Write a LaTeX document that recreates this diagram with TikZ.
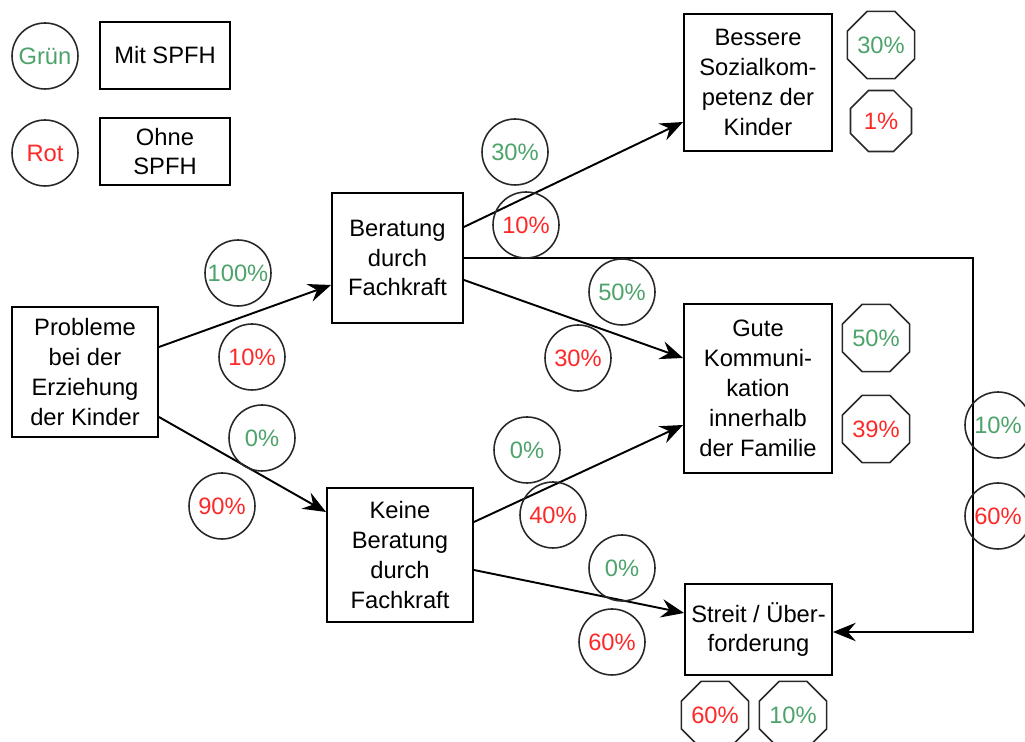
\documentclass[tikz,border=0pt]{standalone}
\usepackage{fontspec}
\setmainfont{Liberation Sans}
\usetikzlibrary{shapes.geometric,arrows.meta,calc}
\definecolor{grn}{RGB}{77,163,107}
\definecolor{rd}{RGB}{255,40,40}
\definecolor{edge}{RGB}{40,40,40}
\begin{document}
\begin{tikzpicture}[x=0.02cm,y=-0.02cm,
  every node/.style={font=\fontsize{13.5pt}{17pt}\selectfont},
  box/.style={draw=black, line width=1.1pt, align=center, inner sep=0pt},
  circ/.style={circle, draw=edge, line width=0.9pt, minimum size=1.32cm, inner sep=0pt},
  oct/.style={regular polygon, regular polygon sides=8, draw=edge, line width=0.9pt,
              minimum size=1.32cm, inner sep=0pt},
  gtxt/.style={text=grn},
  rtxt/.style={text=rd},
  arr/.style={draw=black, line width=1.1pt, -{Stealth[length=13pt,width=10.5pt,inset=4.5pt]}}]
\useasboundingbox (0,0) rectangle (1025,742);

% legend
\node[circ, gtxt] (lg) at (45,56) {Grün};
\node[circ, rtxt] (lr) at (45,153) {Rot};
\node[box, minimum width=2.6cm, minimum height=1.34cm] (lmit) at (165,55.5) {Mit SPFH};
\node[box, minimum width=2.6cm, minimum height=1.34cm] (lohne) at (165,151.5) {Ohne\\SPFH};

% boxes
\node[box, minimum width=2.92cm, minimum height=2.6cm] (prob) at (85,372)
  {Probleme\\bei der\\Erziehung\\der Kinder};
\node[box, minimum width=2.62cm, minimum height=2.6cm] (ber) at (397.5,258)
  {Beratung\\durch\\Fachkraft};
\node[box, minimum width=2.92cm, minimum height=2.68cm] (kein) at (400,555)
  {Keine\\Beratung\\durch\\Fachkraft};
\node[box, minimum width=2.96cm, minimum height=2.74cm] (bess) at (758,82.5)
  {Bessere\\Sozialkom-\\petenz der\\Kinder};
\node[box, minimum width=2.96cm, minimum height=3.38cm] (gute) at (758,388.5)
  {Gute\\Kommuni-\\kation\\innerhalb\\der Familie};
\node[box, minimum width=2.94cm, minimum height=1.82cm] (str) at (758.5,629.5)
  {Streit / Über-\\forderung};

% connectors
\coordinate (rt) at (973,258);
\draw[arr] ($(prob.east)+(0,-25)$) -- ($(ber.west)+(0,27)$);
\draw[arr] ($(prob.east)+(0,45)$) -- ($(kein.west)+(0,-43)$);
\draw[arr] ($(ber.east)+(0,-31)$) -- ($(bess.west)+(0,39.5)$);
\draw[arr] (ber.east) -- (rt) |- ($(str.east)+(0,2.5)$);
\draw[arr] ($(ber.east)+(0,22)$) -- ($(gute.west)+(0,-30.5)$);
\draw[arr] ($(kein.east)+(0,-33)$) -- ($(gute.west)+(0,36.5)$);
\draw[arr] ($(kein.east)+(0,15)$) -- ($(str.west)+(0,-16.5)$);

% branch percentages
\node[circ, gtxt] (p1g) at (238,273) {100\%};
\node[circ, rtxt] (p1r) at (252,357) {10\%};
\node[circ, gtxt] (p2g) at (262,438) {0\%};
\node[circ, rtxt] (p2r) at (222,506) {90\%};
\node[circ, gtxt] (p3g) at (515,152) {30\%};
\node[circ, rtxt] (p3r) at (526,225) {10\%};
\node[circ, gtxt] (p5g) at (622,292) {50\%};
\node[circ, rtxt] (p5r) at (578,358) {30\%};
\node[circ, gtxt] (p6g) at (527,450) {0\%};
\node[circ, rtxt] (p6r) at (553,515) {40\%};
\node[circ, gtxt] (p7g) at (622,568) {0\%};
\node[circ, rtxt] (p7r) at (612,642) {60\%};
\node[circ, gtxt] (p4g) at (998,425) {10\%};
\node[circ, rtxt] (p4r) at (998,516) {60\%};

% outcome totals
\node[oct, gtxt] (o1g) at (881,45) {30\%};
\node[oct, rtxt] (o1r) at (881,121) {1\%};
\node[oct, gtxt] (o2g) at (876,338) {50\%};
\node[oct, rtxt] (o2r) at (876,429) {39\%};
\node[oct, rtxt] (o3r) at (715,715) {60\%};
\node[oct, gtxt] (o3g) at (793,715) {10\%};
\end{tikzpicture}
\end{document}
